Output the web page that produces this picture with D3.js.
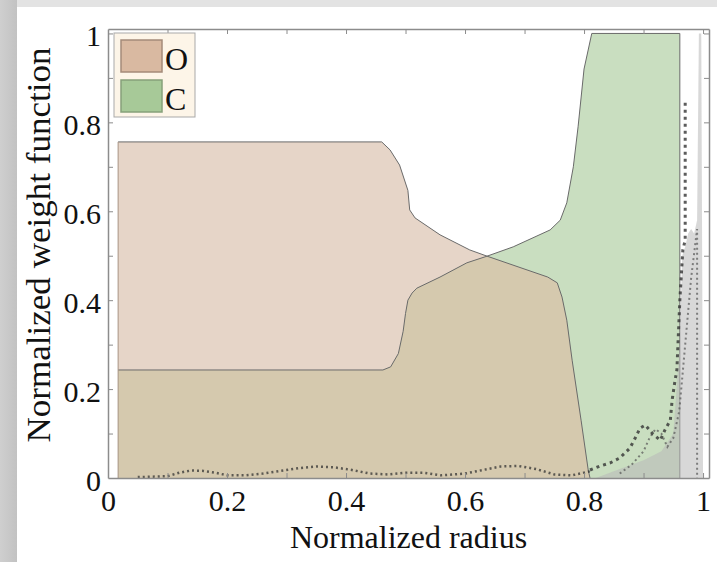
<!DOCTYPE html>
<html>
<head>
<meta charset="utf-8">
<script src="https://cdn.jsdelivr.net/npm/d3@7"></script>
<style>
  body { margin: 0; background: #fff; }
  svg { display: block; }
</style>
</head>
<body>
<div id="chart"></div>
<script>
// O weight (normalized radius -> weight)
const radiusO = [0.017, 0.46, 0.474, 0.49, 0.504, 0.507, 0.516, 0.558, 0.608, 0.637, 0.739, 0.755, 0.763, 0.771, 0.78, 0.795, 0.807, 0.81];
const weightO = [0.756, 0.756, 0.738, 0.704, 0.647, 0.603, 0.585, 0.547, 0.513, 0.499, 0.452, 0.439, 0.407, 0.355, 0.265, 0.13, 0.018, 0];

// C weight
const radiusC = [0.017, 0.462, 0.475, 0.488, 0.496, 0.5, 0.504, 0.511, 0.519, 0.558, 0.603, 0.637, 0.681, 0.743, 0.76, 0.771, 0.782, 0.79, 0.8, 0.813, 0.961, 0.961];
const weightC = [0.243, 0.243, 0.25, 0.28, 0.33, 0.37, 0.40, 0.416, 0.427, 0.452, 0.484, 0.499, 0.52, 0.558, 0.58, 0.619, 0.70, 0.79, 0.92, 1.0, 1.0, 0];

// other elements near the edge (light grey)
const radiusEdge = [0.82, 0.86, 0.9, 0.93, 0.95, 0.961, 0.965, 0.97, 0.975, 0.98, 0.985, 0.99, 0.993, 0.997, 1.0];
const weightEdge = [0, 0.02, 0.04, 0.06, 0.1, 0.3, 0.5, 0.52, 0.55, 0.56, 0.55, 0.58, 1.0, 1.0, 0];

// dotted weight curves
const radiusDotsA = [0.81, 0.827, 0.844, 0.86, 0.877, 0.886, 0.894, 0.903, 0.915, 0.928, 0.936, 0.945, 0.948, 0.953, 0.956, 0.961, 0.966, 0.97, 0.97];
const weightDotsA = [0.018, 0.027, 0.034, 0.045, 0.067, 0.09, 0.112, 0.119, 0.1, 0.085, 0.108, 0.13, 0.175, 0.22, 0.243, 0.40, 0.513, 0.535, 0.85];
const radiusDotsB = [0.05, 0.1, 0.12, 0.14, 0.16, 0.18, 0.2, 0.23, 0.26, 0.29, 0.32, 0.35, 0.38, 0.41, 0.44, 0.47, 0.5, 0.53, 0.56, 0.6, 0.63, 0.66, 0.69, 0.72, 0.75, 0.78, 0.81];
const weightDotsB = [0.002, 0.004, 0.012, 0.017, 0.016, 0.012, 0.006, 0.006, 0.01, 0.016, 0.022, 0.026, 0.024, 0.018, 0.01, 0.008, 0.012, 0.012, 0.006, 0.01, 0.018, 0.026, 0.027, 0.02, 0.008, 0.006, 0.015];
const radiusDotsC = [0.86, 0.88, 0.9, 0.91, 0.92, 0.93, 0.94, 0.95, 0.96, 0.97, 0.98, 0.99, 0.99];
const weightDotsC = [0.01, 0.03, 0.06, 0.09, 0.11, 0.1, 0.07, 0.09, 0.15, 0.3, 0.45, 0.56, 0.0];

const xTicks = [0, 0.2, 0.4, 0.6, 0.8, 1];
const yTicks = [0, 0.2, 0.4, 0.6, 0.8, 1];
const minorTicks = [0.1, 0.2, 0.3, 0.4, 0.5, 0.6, 0.7, 0.8, 0.9, 1];
const legendNames = ["O", "C"];

const width = 717, height = 562;
const font = "'Liberation Serif', 'Times New Roman', serif";

const svg = d3.select("#chart").append("svg")
  .attr("width", width)
  .attr("height", height);

// grey frame around the figure
const defs = svg.append("defs");
const grad = defs.append("linearGradient").attr("id", "leftBand");
grad.append("stop").attr("offset", "0%").attr("stop-color", "#cfcfcf");
grad.append("stop").attr("offset", "100%").attr("stop-color", "#c2c2c2");
svg.append("rect").attr("width", width).attr("height", 7).attr("fill", "#e3e3e3");
svg.append("rect").attr("width", 17).attr("height", height).attr("fill", "url(#leftBand)");

const x = d3.scaleLinear().domain([0, 1.01]).range([108, 709]);
const y = d3.scaleLinear().domain([0, 1.01]).range([478, 29]);

const zip = (a, b) => a.map((v, i) => [v, b[i]]);
const area = d3.area().x(d => x(d[0])).y0(y(0)).y1(d => y(d[1]));
const line = d3.line().x(d => x(d[0])).y(d => y(d[1]));

const dataO = zip(radiusO, weightO);
const dataC = zip(radiusC, weightC);

defs.append("clipPath").attr("id", "clipO")
  .append("path").attr("d", area(dataO));

svg.append("path").attr("d", area(dataO)).attr("fill", "#e6d5c8");
svg.append("path").attr("d", area(dataC)).attr("fill", "#c9dec0");
// overlap of both
svg.append("path").attr("d", area(dataC)).attr("fill", "#d5c9ae").attr("clip-path", "url(#clipO)");

svg.append("path").attr("d", line(dataO)).attr("fill", "none").attr("stroke", "#6a6a6a").attr("stroke-width", 1);
svg.append("path").attr("d", line(dataC)).attr("fill", "none").attr("stroke", "#6a6a6a").attr("stroke-width", 1);
svg.append("line").attr("x1", x(0.017)).attr("x2", x(0.017)).attr("y1", y(0)).attr("y2", y(0.756))
  .attr("stroke", "#a89484").attr("stroke-width", 1);

svg.append("path").attr("d", area(zip(radiusEdge, weightEdge)))
  .attr("fill", "#b8b8b8").attr("fill-opacity", 0.55);

svg.append("path").attr("d", line(zip(radiusDotsB, weightDotsB)))
  .attr("fill", "none").attr("stroke", "#333").attr("stroke-width", 2.5)
  .attr("stroke-dasharray", "2,3").attr("opacity", 0.75);
svg.append("path").attr("d", line(zip(radiusDotsC, weightDotsC)))
  .attr("fill", "none").attr("stroke", "#555").attr("stroke-width", 2)
  .attr("stroke-dasharray", "2,3").attr("opacity", 0.7);
svg.append("path").attr("d", line(zip(radiusDotsA, weightDotsA)))
  .attr("fill", "none").attr("stroke", "#333").attr("stroke-width", 3)
  .attr("stroke-dasharray", "3,4").attr("opacity", 0.8);

// axes box with inward ticks
const axisColor = "#8c8c8c";
function styleAxis(g) {
  g.selectAll("path.domain").attr("stroke", axisColor).attr("stroke-width", 1.5);
  g.selectAll(".tick line").attr("stroke", axisColor);
  g.selectAll("text").attr("font-family", font).attr("font-size", 30).attr("fill", "#111");
}
const fmt = d => String(d);

svg.append("g").attr("transform", `translate(0,${y(0)})`)
  .call(d3.axisBottom(x).tickValues(minorTicks).tickSize(-5).tickSizeOuter(0).tickFormat(""))
  .call(styleAxis);
svg.append("g").attr("transform", `translate(0,${y(0)})`)
  .call(d3.axisBottom(x).tickValues(xTicks).tickSize(0).tickPadding(12).tickFormat(fmt))
  .call(g => g.select(".domain").remove())
  .call(styleAxis);
svg.append("g").attr("transform", `translate(0,${y(1.01)})`)
  .call(d3.axisTop(x).tickValues(minorTicks).tickSize(-5).tickSizeOuter(0).tickFormat(""))
  .call(styleAxis);
svg.append("g").attr("transform", `translate(${x(0)},0)`)
  .call(d3.axisLeft(y).tickValues(minorTicks).tickSize(-5).tickSizeOuter(0).tickFormat(""))
  .call(styleAxis);
svg.append("g").attr("transform", `translate(${x(0)},0)`)
  .call(d3.axisLeft(y).tickValues(yTicks).tickSize(0).tickPadding(7).tickFormat(fmt))
  .call(g => g.select(".domain").remove())
  .call(styleAxis)
  .call(g => g.selectAll("text").attr("dy", "0.4em"));
svg.append("g").attr("transform", `translate(${x(1.01)},0)`)
  .call(d3.axisRight(y).tickValues(minorTicks).tickSize(-5).tickSizeOuter(0).tickFormat(""))
  .call(styleAxis);

// axis titles
svg.append("text")
  .attr("x", (x(0) + x(1.01)) / 2).attr("y", 548)
  .attr("text-anchor", "middle")
  .attr("font-family", font).attr("font-size", 32).attr("fill", "#111")
  .text("Normalized radius");
svg.append("text")
  .attr("transform", "translate(50,245) rotate(-90)")
  .attr("text-anchor", "middle")
  .attr("font-family", font).attr("font-size", 33).attr("fill", "#111")
  .attr("textLength", 395).attr("lengthAdjust", "spacingAndGlyphs")
  .text("Normalized weight function");

// legend
const legendFill = ["#d9b9a1", "#a7c998"];
const legendStroke = ["#a48b79", "#86a07a"];
const legend = svg.append("g");
legend.append("rect")
  .attr("x", 114).attr("y", 33).attr("width", 81).attr("height", 84)
  .attr("fill", "#fdf5e8").attr("stroke", "#a9a9a9").attr("stroke-width", 1);
const items = legend.selectAll("g.item").data(legendNames).join("g")
  .attr("class", "item")
  .attr("transform", (d, i) => `translate(121,${40 + i * 40})`);
items.append("rect")
  .attr("width", 41).attr("height", 32)
  .attr("fill", (d, i) => legendFill[i])
  .attr("stroke", (d, i) => legendStroke[i]).attr("stroke-width", 1.5);
items.append("text")
  .attr("x", 44).attr("y", 30)
  .attr("font-family", font).attr("font-size", 32).attr("fill", "#111")
  .text(d => d);
</script>
</body>
</html>
